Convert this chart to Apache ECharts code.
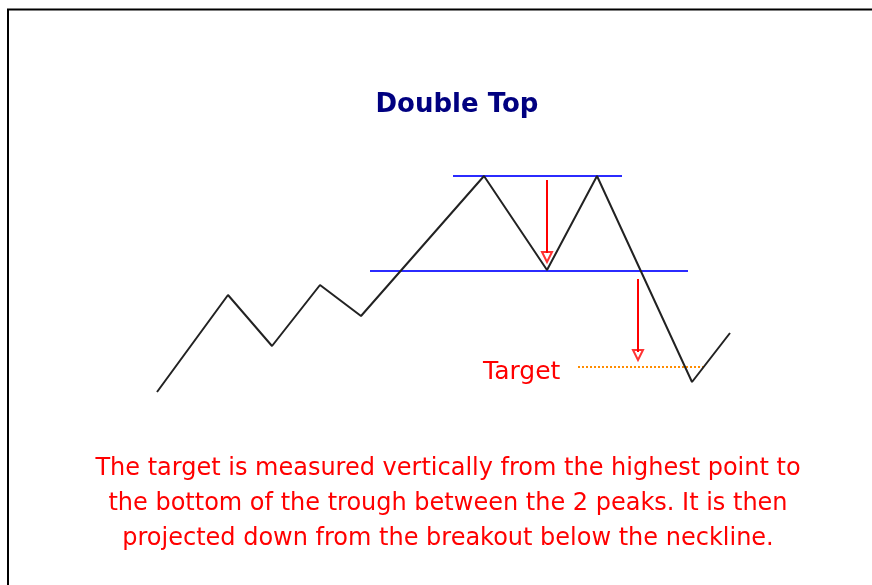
<!DOCTYPE html>
<html>
<head>
    <meta charset="UTF-8">
    <title>Double Top</title>
    <style>
        html, body { margin: 0; padding: 0; background: #fff; }
    </style>
</head>
<body>
    <div id="main" style="width: 872px;height:585px;"></div>
    <script src="https://cdn.jsdelivr.net/npm/echarts@6/dist/echarts.min.js"></script>
    <script type="text/javascript">
        // price path (x = time position, y = drawn height)
        var pathX = [157, 228, 272, 320, 361, 484, 547, 597, 692, 730];
        var pathY = [392, 295, 346, 285, 316, 176, 270, 176, 382, 333];

        // horizontal levels: resistance at the two peaks, neckline, target
        var topLine = [[453, 176], [622, 176]];
        var neckLine = [[370, 271], [688, 271]];
        var targetLine = [[578, 367], [704, 367]];

        // measuring arrows (shaft start, shaft end) and their heads
        var arrow1 = [[547, 180], [547, 253]];
        var arrow2 = [[638, 279], [638, 352]];
        var heads = [[547, 257], [638, 355]];

        var note = [
            'The target is measured vertically from the highest point to',
            'the bottom of the trough between the 2 peaks. It is then',
            'projected down from the breakout below the neckline.'
        ];

        var pathData = pathX.map(function (x, i) { return [x, pathY[i]]; });

        var myChart = echarts.init(document.getElementById('main'));

        function seg(data, color, width, type) {
            return {
                type: 'line',
                data: data,
                symbol: 'none',
                silent: true,
                animation: false,
                lineStyle: { color: color, width: width, type: type || 'solid' }
            };
        }

        myChart.setOption({
            backgroundColor: '#fff',
            animation: false,
            title: {
                text: 'Double Top',
                left: 452,
                top: 87,
                textAlign: 'center',
                textStyle: {
                    color: '#000080',
                    fontFamily: 'DejaVu Sans',
                    fontWeight: 'bold',
                    fontSize: 26
                }
            },
            grid: { left: 0, right: 0, top: 0, bottom: 0 },
            xAxis: { type: 'value', min: 0, max: 872, show: false },
            yAxis: { type: 'value', min: 0, max: 585, inverse: true, show: false },
            graphic: [
                {
                    type: 'polyline',
                    shape: { points: [[8, 585], [8, 9.5], [872, 9.5]] },
                    style: { stroke: '#000', lineWidth: 2, fill: null },
                    silent: true
                },
                {
                    type: 'text',
                    left: 483,
                    top: 360,
                    style: {
                        text: 'Target',
                        fill: '#ff0000',
                        font: '25px "DejaVu Sans"'
                    }
                },
                {
                    type: 'text',
                    x: 448,
                    y: 451,
                    style: {
                        text: note.join('\n'),
                        fill: '#ff0000',
                        font: '24px "DejaVu Sans"',
                        lineHeight: 35,
                        align: 'center'
                    }
                }
            ],
            series: [
                seg(topLine, '#2b2bff', 2),
                seg(neckLine, '#2b2bff', 2),
                seg(targetLine, '#ff8c00', 2, 'dotted'),
                seg(arrow1, '#ff0000', 2),
                seg(arrow2, '#ff0000', 2),
                seg(pathData, '#222', 2),
                {
                    type: 'scatter',
                    data: heads,
                    symbol: 'emptyTriangle',
                    symbolRotate: 180,
                    symbolSize: [10, 10],
                    silent: true,
                    itemStyle: { color: '#ff0000', borderColor: '#ff0000', borderWidth: 1.5 }
                }
            ]
        });
    </script>
</body>
</html>
